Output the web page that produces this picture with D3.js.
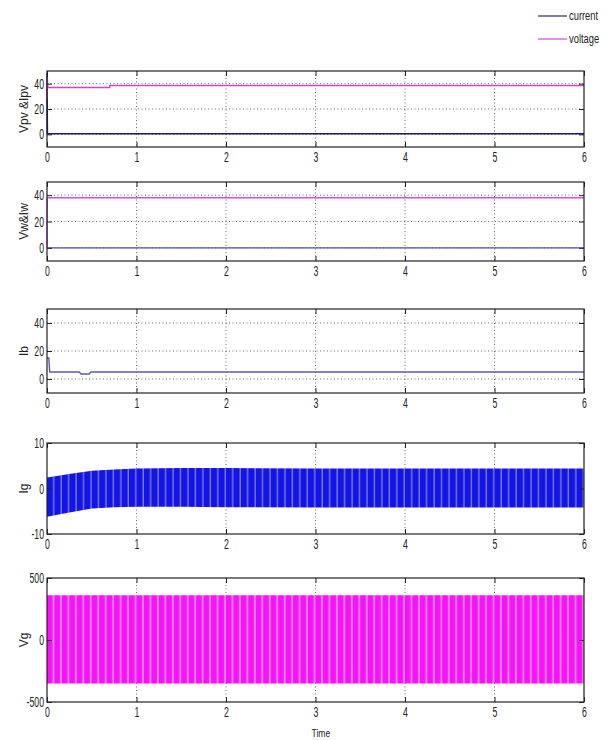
<!DOCTYPE html>
<html>
<head>
<meta charset="utf-8">
<script src="https://cdn.jsdelivr.net/npm/d3@7"></script>
<style>
  body { margin: 0; background: #fff; }
  svg text { font-family: "Liberation Sans", Arial, sans-serif; fill: #222; }
</style>
</head>
<body>
<div id="chart"></div>
<script>
// ---- données ----
const timeTicks = [0, 1, 2, 3, 4, 5, 6];
const smallTicks = [0, 20, 40];
const igTicks = [-10, 0, 10];
const vgTicks = [-500, 0, 500];

// Vpv & Ipv  [temps, valeur]
const pvVoltage = [[0, 28], [0.003, 45], [0.01, 37], [0.7, 37], [0.7, 38.5], [6, 38.5]];
const pvCurrent = [[0, 48], [0.004, 0.5], [6, 0.5]];

// Vw & Iw
const windVoltage = [[0, 0], [0.003, 38], [6, 38]];
const windCurrent = [[0, 0], [6, 0]];

// Ib
const batteryCurrent = [[0, 15], [0.02, 15], [0.03, 5], [0.36, 5], [0.38, 3.6], [0.47, 3.6], [0.49, 5], [6, 5]];

// Ig : enveloppe de l'oscillation
const igTime = [0, 0.25, 0.5, 0.75, 1, 1.5, 2, 3, 4, 5, 6];
const igUpper = [2.4, 3.2, 3.9, 4.2, 4.4, 4.5, 4.5, 4.4, 4.4, 4.4, 4.4];
const igLower = [-6.2, -5.3, -4.4, -4.1, -4.0, -4.0, -4.1, -4.2, -4.2, -4.2, -4.2];

// Vg : enveloppe de l'oscillation
const vgTime = [0, 6];
const vgUpper = [360, 360];
const vgLower = [-350, -350];

const legendItems = [
  { label: "current", col: "#3a3a7a" },
  { label: "voltage", col: "#d455d4" }
];

//---------------------------------------------------------------------------------------

const width = 615;
const height = 740;
const left = 47;
const right = 584;
const squeeze = 0.6; // les chiffres de la figure sont très étroits

const svg = d3.select("#chart")
  .append("svg")
  .attr("width", width)
  .attr("height", height);

const x = d3.scaleLinear().domain([0, 6]).range([left, right]);

// Motifs rayés pour les signaux alternatifs (repliement visible sur la figure)
const defs = svg.append("defs");
const period = (x(1) - x(0)) / 12;

function stripes(id, base, light, w) {
  const p = defs.append("pattern")
    .attr("id", id)
    .attr("patternUnits", "userSpaceOnUse")
    .attr("x", left)
    .attr("width", period)
    .attr("height", 10);
  p.append("rect").attr("width", period).attr("height", 10).attr("fill", base);
  p.append("rect").attr("x", period - w).attr("width", w).attr("height", 10).attr("fill", light);
}
stripes("igStripes", "#1414e6", "#7a7ad8", 1.4);
stripes("vgStripes", "#fb10fb", "#d884d8", 2.0);

// Configuration des panneaux
const panels = [
  { top: 71, bottom: 147, domain: [-10, 50], ticks: smallTicks, label: "Vpv &Ipv",
    lines: [{ data: pvCurrent, col: "#1c1c78", w: 1.6 }, { data: pvVoltage, col: "#c848c8", w: 1.4 }] },
  { top: 182, bottom: 261, domain: [-10, 50], ticks: smallTicks, label: "Vw&Iw",
    lines: [{ data: windCurrent, col: "#5555a0", w: 1.3 }, { data: windVoltage, col: "#d84ad8", w: 1.4 }] },
  { top: 309, bottom: 393, domain: [-10, 50], ticks: smallTicks, label: "Ib",
    lines: [{ data: batteryCurrent, col: "#5b5ba8", w: 1.4 }] },
  { top: 443, bottom: 534, domain: [-10, 10], ticks: igTicks, label: "Ig",
    band: { t: igTime, hi: igUpper, lo: igLower, fill: "url(#igStripes)" } },
  { top: 578, bottom: 702, domain: [-500, 500], ticks: vgTicks, label: "Vg",
    band: { t: vgTime, hi: vgUpper, lo: vgLower, fill: "url(#vgStripes)" } }
];

panels.forEach(p => {

  const y = d3.scaleLinear().domain(p.domain).range([p.bottom, p.top]);
  const g = svg.append("g");

  // grille pointillée
  g.selectAll(".vgrid")
    .data(timeTicks.slice(1, -1))
    .join("line")
    .attr("x1", d => x(d)).attr("x2", d => x(d))
    .attr("y1", p.top).attr("y2", p.bottom)
    .attr("stroke", "#444").attr("stroke-width", 0.8)
    .attr("stroke-dasharray", "1,2.5");

  g.selectAll(".hgrid")
    .data(p.ticks.filter(d => d > p.domain[0] && d < p.domain[1]))
    .join("line")
    .attr("x1", left).attr("x2", right)
    .attr("y1", d => y(d)).attr("y2", d => y(d))
    .attr("stroke", "#444").attr("stroke-width", 0.8)
    .attr("stroke-dasharray", "1,2.5");

  // bande oscillante
  if (p.band) {
    const pts = p.band.t.map((t, i) => ({ t: t, hi: p.band.hi[i], lo: p.band.lo[i] }));
    g.append("path")
      .datum(pts)
      .attr("fill", p.band.fill)
      .attr("d", d3.area().x(d => x(d.t)).y0(d => y(d.lo)).y1(d => y(d.hi)));
  }

  // courbes
  (p.lines || []).forEach(l => {
    g.append("path")
      .datum(l.data)
      .attr("fill", "none")
      .attr("stroke", l.col)
      .attr("stroke-width", l.w)
      .attr("d", d3.line().x(d => x(d[0])).y(d => y(d[1])));
  });

  // axes (graduations vers l'intérieur, façon MATLAB)
  const fmt = d => String(d);
  const xAxis = d3.axisBottom(x).tickValues(timeTicks).tickFormat(fmt).tickSizeInner(-5).tickSizeOuter(0).tickPadding(5);
  const xTop = d3.axisTop(x).tickValues(timeTicks).tickSizeInner(-5).tickSizeOuter(0).tickFormat("");
  const yAxis = d3.axisLeft(y).tickValues(p.ticks).tickFormat(fmt).tickSizeInner(-5).tickSizeOuter(0).tickPadding(3);
  const yRight = d3.axisRight(y).tickValues(p.ticks).tickSizeInner(-5).tickSizeOuter(0).tickFormat("");

  const axes = [
    g.append("g").attr("transform", `translate(0, ${p.bottom})`).call(xAxis),
    g.append("g").attr("transform", `translate(0, ${p.top})`).call(xTop),
    g.append("g").attr("transform", `translate(${left}, 0)`).call(yAxis),
    g.append("g").attr("transform", `translate(${right}, 0)`).call(yRight)
  ];
  axes.forEach(a => {
    a.select(".domain").remove();
    a.selectAll("line").attr("stroke", "#222");
    a.selectAll("text")
      .attr("font-size", "14.5px")
      .attr("fill", "#333")
      .attr("transform", `scale(${squeeze}, 1)`)
      .style("font-family", '"Liberation Sans", Arial, sans-serif');
  });
  // compenser l'échelle horizontale pour les étiquettes de gauche
  axes[2].selectAll("text").attr("x", -3 / squeeze);

  // cadre
  g.append("rect")
    .attr("x", left).attr("y", p.top)
    .attr("width", right - left).attr("height", p.bottom - p.top)
    .attr("fill", "none").attr("stroke", "#222").attr("stroke-width", 1.2);

  // titre de l'axe y
  g.append("text")
    .attr("transform", `translate(28, ${(p.top + p.bottom) / 2}) rotate(-90)`)
    .attr("text-anchor", "middle")
    .attr("font-size", "12px")
    .attr("fill", "#333")
    .text(p.label);
});

// Titre de l'axe x
svg.append("text")
  .attr("transform", `translate(${x(3) - 4}, 737) scale(0.78, 1)`)
  .attr("font-size", "11px")
  .attr("fill", "#333")
  .text("Time");

//---------------------------------------------------------------------------------------

// Légende
const legend = svg.selectAll(".legend")
  .data(legendItems)
  .join("g")
  .attr("class", "legend")
  .attr("transform", (d, i) => `translate(538, ${16 + i * 23})`);

legend.append("line")
  .attr("x1", 0).attr("x2", 29)
  .attr("stroke", d => d.col)
  .attr("stroke-width", 1.3);

legend.append("text")
  .attr("transform", "translate(31, 4) scale(0.78, 1)")
  .attr("font-size", "12px")
  .attr("fill", "#333")
  .text(d => d.label);
</script>
</body>
</html>
